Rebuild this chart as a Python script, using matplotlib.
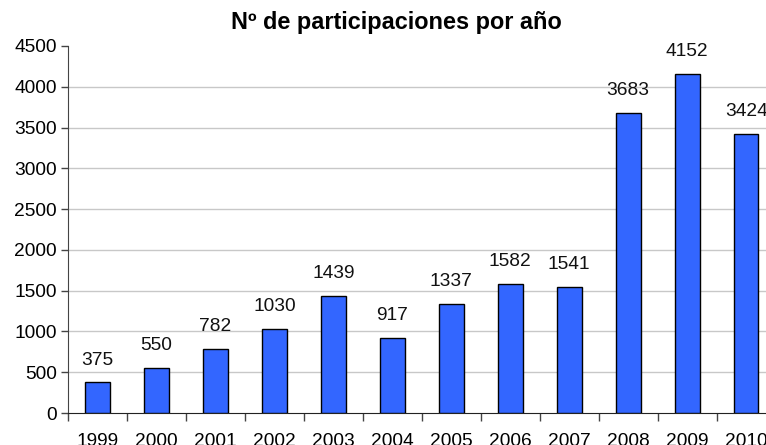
import matplotlib
matplotlib.use("Agg")
import matplotlib.pyplot as plt
import numpy as np

years = ["1999", "2000", "2001", "2002", "2003", "2004", "2005", "2006", "2007", "2008", "2009", "2010"]
values = [375, 550, 782, 1030, 1439, 917, 1337, 1582, 1541, 3683, 4152, 3424]
yticks = [0, 500, 1000, 1500, 2000, 2500, 3000, 3500, 4000, 4500]
title = "Nº de participaciones por año"

plt.rcParams['font.family'] = ['Liberation Sans', 'DejaVu Sans']

W, H = 766, 445
fig = plt.figure(figsize=(W / 100, H / 100), dpi=100)
x0, x1 = 68, 775.6
y0, y1 = 413, 46
ax = fig.add_axes([x0 / W, (H - y0) / H, (x1 - x0) / W, (y0 - y1) / H])

FS = 13.8
x = np.arange(len(years))
ax.bar(x, values, width=0.42, color="#3366FF", edgecolor="black", linewidth=1.0, zorder=3)
for xi, v in zip(x, values):
    ax.annotate(str(v), (xi, v), xytext=(0, 10), textcoords="offset points",
                ha="center", va="bottom", fontsize=FS, color="#111111")

ax.set_xlim(-0.5, len(years) - 0.5)
ax.set_ylim(0, 4500)
ax.set_yticks(yticks)
ax.set_yticklabels([str(t) for t in yticks], fontsize=FS)
for t in yticks[1:-1]:
    ax.axhline(t, color="#c8c8c8", linewidth=1.0, zorder=1)

ax.set_xticks(x)
ax.set_xticklabels(years, fontsize=FS)
ax.set_xticks(np.arange(-0.5, len(years), 1.0), minor=True)
ax.tick_params(axis="x", which="major", length=0, pad=14.5)
ax.tick_params(axis="x", which="minor", length=6, width=1, color="#444444", direction="out")
ax.tick_params(axis="y", length=5, width=1, color="#444444", direction="out", pad=3)

for s in ["top", "right"]:
    ax.spines[s].set_visible(False)
ax.spines["left"].set_color("#444444")
ax.spines["bottom"].set_color("#222222")

fig.text(396.5 / W, 1 - 22 / H, title, ha="center", va="center", fontsize=16.9, fontweight="bold")

fig.savefig("out.png", dpi=100)
